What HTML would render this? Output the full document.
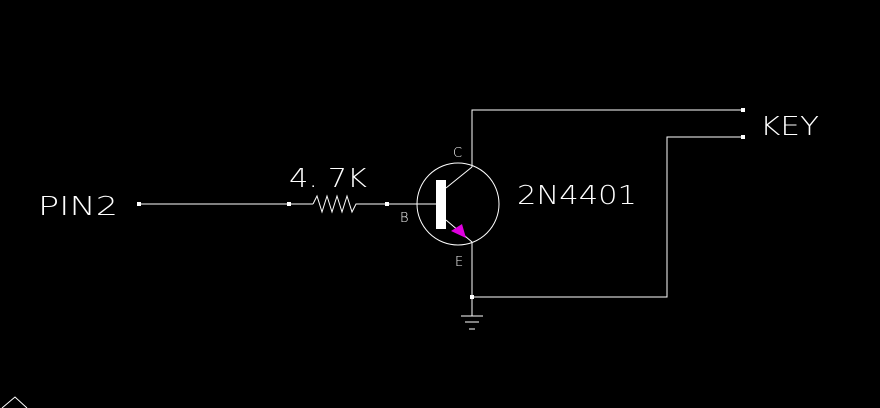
<!DOCTYPE html>
<html><head><meta charset="utf-8"><style>
html,body{margin:0;padding:0;background:#000;width:880px;height:408px;overflow:hidden}
svg{display:block}
text{font-family:"DejaVu Sans","Liberation Sans",sans-serif;font-weight:200;fill:#fff}
</style></head><body>
<svg width="880" height="408" viewBox="0 0 880 408">
<g stroke="#fff" stroke-width="1" fill="none">
<line x1="139" y1="204" x2="313" y2="204"/>
<polyline points="313,204 317,196 322,212 327,196 332,212 337,196 342,212 347,196 352,212 356,204 358,204"/>
<line x1="358" y1="204" x2="436" y2="204"/>
<circle cx="458" cy="204" r="41"/>
<line x1="446" y1="188" x2="472" y2="167"/>
<line x1="446" y1="220" x2="472" y2="242"/>
<polyline points="472,167 472,110 743,110"/>
<polyline points="472,242 472,297 667,297 667,137 743,137"/>
<line x1="472" y1="297" x2="472" y2="316"/>
<line x1="461" y1="316" x2="483" y2="316"/>
<line x1="465" y1="322" x2="479" y2="322"/>
<line x1="469" y1="329" x2="475" y2="329"/>
<polyline points="2,408 15,397 27,408"/>
</g>
<rect x="436" y="180" width="10" height="49" fill="#fff"/>
<polygon points="451,231 462,224 466,238" fill="#e000e0"/>
<g fill="#fff">
<rect x="137" y="202" width="4" height="4"/>
<rect x="287" y="202" width="4" height="4"/>
<rect x="385" y="202" width="4" height="4"/>
<rect x="470" y="295" width="4" height="4"/>
<rect x="741" y="108" width="4" height="4"/>
<rect x="741" y="135" width="4" height="4"/>
</g>
<text x="38" y="215" font-size="26" textLength="80" lengthAdjust="spacingAndGlyphs">PIN2</text>
<text x="289" y="187" font-size="26" textLength="78" lengthAdjust="spacingAndGlyphs">4. 7K</text>
<text x="517" y="204" font-size="26" textLength="120" lengthAdjust="spacingAndGlyphs">2N4401</text>
<text x="760" y="135" font-size="26" textLength="59" lengthAdjust="spacingAndGlyphs">KEY</text>
<text x="453" y="157" font-size="13">C</text>
<text x="400" y="222" font-size="13">B</text>
<text x="455" y="266" font-size="13">E</text>
</svg>
</body></html>
